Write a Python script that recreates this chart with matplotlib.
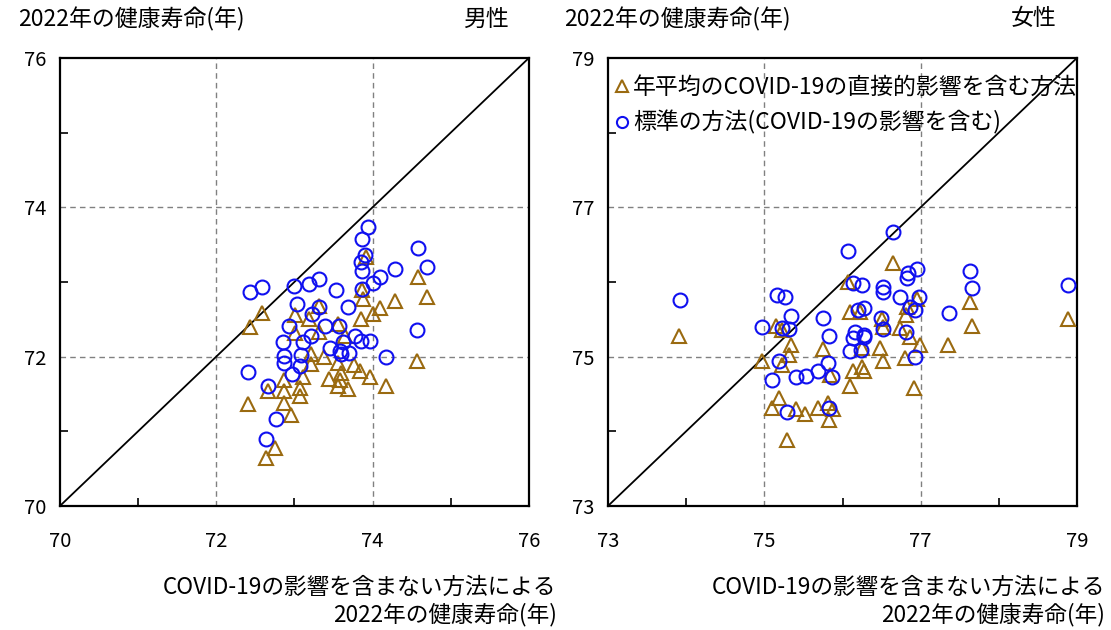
import matplotlib
matplotlib.use("Agg")
import matplotlib.pyplot as plt

plt.rcParams['font.family'] = ['Noto Sans CJK JP', 'DejaVu Sans']

# ---- male (x: without COVID-19, y: with) ----
male_std_x = [73.94, 73.87, 73.90, 73.85, 73.87, 74.58, 74.70, 74.29, 74.10, 74.01,
              73.86, 72.43, 72.59, 73.00, 73.19, 73.32, 73.53, 73.03, 73.31, 73.22,
              73.69, 72.93, 73.39, 73.57, 73.21, 73.11, 72.85, 73.45, 73.62, 73.77,
              73.85, 73.96, 73.58, 73.70, 73.60, 73.08, 72.86, 72.87, 73.07, 72.97,
              74.57, 74.17, 72.40, 72.66, 72.76, 72.63]
male_std_y = [73.73, 73.58, 73.36, 73.27, 73.15, 73.45, 73.20, 73.17, 73.07, 72.99,
              72.90, 72.87, 72.93, 72.95, 72.97, 73.04, 72.89, 72.71, 72.67, 72.57,
              72.66, 72.41, 72.41, 72.41, 72.28, 72.19, 72.19, 72.12, 72.20, 72.27,
              72.21, 72.21, 72.08, 72.05, 72.04, 72.02, 72.01, 71.92, 71.88, 71.76,
              72.36, 71.99, 71.79, 71.61, 71.17, 70.90]
male_avg_x = [73.92, 74.58, 74.70, 74.29, 74.09, 74.00, 73.87, 73.88, 73.85, 72.59,
              72.43, 73.01, 73.31, 73.19, 73.56, 73.32, 73.01, 73.65, 73.21, 73.38,
              73.21, 73.11, 73.56, 73.76, 73.84, 73.96, 73.44, 73.58, 73.56, 73.69,
              72.86, 72.86, 72.66, 73.07, 73.07, 72.86, 72.96, 72.40, 74.17, 74.57,
              72.75, 72.63, 73.60]
male_avg_y = [73.33, 73.06, 72.80, 72.74, 72.65, 72.57, 72.89, 72.77, 72.50, 72.59,
              72.40, 72.56, 72.68, 72.50, 72.44, 72.33, 72.31, 72.27, 72.04, 72.00,
              71.90, 71.73, 71.91, 71.89, 71.81, 71.73, 71.70, 71.69, 71.60, 71.57,
              71.69, 71.54, 71.54, 71.58, 71.47, 71.38, 71.22, 71.37, 71.61, 71.94,
              70.77, 70.64, 71.78]

# ---- female ----
female_std_x = [73.92, 75.16, 75.26, 75.34, 74.97, 75.22, 75.31, 75.19, 75.10, 75.40,
                75.53, 75.69, 75.29, 75.75, 75.83, 75.81, 75.87, 75.83, 76.65, 76.07,
                76.14, 76.25, 76.52, 76.52, 76.74, 76.84, 76.95, 76.82, 76.98, 76.86,
                76.93, 76.49, 76.52, 76.81, 76.16, 76.14, 76.27, 76.28, 76.10, 76.23,
                76.93, 77.36, 77.63, 77.66, 78.88, 76.20, 76.27]
female_std_y = [75.76, 75.83, 75.80, 75.54, 75.40, 75.38, 75.37, 74.94, 74.69, 74.72,
                74.74, 74.81, 74.26, 75.51, 75.28, 74.92, 74.72, 74.31, 76.67, 76.42,
                75.99, 75.96, 75.93, 75.87, 75.80, 76.12, 76.17, 76.05, 75.80, 75.66,
                75.62, 75.51, 75.37, 75.33, 75.33, 75.25, 75.29, 75.26, 75.08, 75.09,
                75.00, 75.59, 76.14, 75.92, 75.96, 75.62, 75.65]
female_avg_x = [73.91, 75.15, 75.23, 75.34, 75.31, 74.97, 75.22, 75.75, 75.19, 75.10,
                75.40, 75.52, 75.68, 75.81, 75.88, 75.83, 75.29, 75.84, 76.64, 76.07,
                76.10, 76.22, 76.50, 76.52, 76.74, 76.81, 76.95, 76.83, 76.25, 76.48,
                76.52, 76.80, 76.99, 76.86, 76.14, 76.25, 76.27, 76.10, 76.92, 77.35,
                77.63, 77.66, 78.88]
female_avg_y = [75.28, 75.41, 75.36, 75.16, 75.02, 74.94, 74.89, 75.10, 74.44, 74.31,
                74.30, 74.23, 74.31, 74.38, 74.30, 74.15, 73.88, 74.75, 76.25, 76.00,
                75.60, 75.60, 75.50, 75.40, 75.38, 75.56, 75.77, 75.66, 75.11, 75.11,
                74.94, 74.98, 75.16, 75.26, 74.80, 74.86, 74.80, 74.60, 74.58, 75.15,
                75.73, 75.41, 75.50]

label_avg = "年平均のCOVID-19の直接的影響を含む方法"
label_std = "標準の方法(COVID-19の影響を含む)"
ylab = "2022年の健康寿命(年)"
xlab = "COVID-19の影響を含まない方法による\n2022年の健康寿命(年)"

tri_col = "#9a6a10"
circ_col = "#1010f0"

fig = plt.figure(figsize=(11.11, 6.3), dpi=100)
axL = fig.add_axes([0.054, 0.197, 0.4221, 0.7111])
axR = fig.add_axes([0.5473, 0.197, 0.4221, 0.7111])


def setup(ax, lo, hi):
    ax.set_xlim(lo, hi)
    ax.set_ylim(lo, hi)
    ax.plot([lo, hi], [lo, hi], color="black", lw=1.3, zorder=2)
    grid = [lo + 2, lo + 4]
    for g in grid:
        ax.axvline(g, color="#808080", lw=1, ls=(0, (4, 3)), zorder=1)
        ax.axhline(g, color="#808080", lw=1, ls=(0, (4, 3)), zorder=1)
    major = [lo, lo + 2, lo + 4, hi]
    minor = [lo + 1, lo + 3, lo + 5]
    ax.set_xticks(major)
    ax.set_yticks(major)
    ax.set_xticks(minor, minor=True)
    ax.set_yticks(minor, minor=True)
    ax.tick_params(which="major", length=0, labelsize=14.5)
    ax.tick_params(axis="x", which="major", pad=18)
    ax.tick_params(axis="y", which="major", pad=10)
    ax.tick_params(which="minor", direction="in", length=6, width=1.2)
    for s in ax.spines.values():
        s.set_linewidth(1.6)


setup(axL, 70, 76)
setup(axR, 73, 79)

ms = 10
mew = 1.5
axL.plot(male_avg_x, male_avg_y, ls="none", marker="^", ms=ms, mfc="none",
         mec=tri_col, mew=mew, zorder=3)
axL.plot(male_std_x, male_std_y, ls="none", marker="o", ms=ms, mfc="none",
         mec=circ_col, mew=mew, zorder=4)
axR.plot(female_avg_x, female_avg_y, ls="none", marker="^", ms=ms, mfc="none",
         mec=tri_col, mew=mew, zorder=3, label=label_avg)
axR.plot(female_std_x, female_std_y, ls="none", marker="o", ms=ms, mfc="none",
         mec=circ_col, mew=mew, zorder=4, label=label_std)

leg = axR.legend(loc="upper left", bbox_to_anchor=(-0.012, 0.99), frameon=False,
                 fontsize=16.5, handlelength=0.55, handletextpad=0.2,
                 labelspacing=0.5, borderaxespad=0.2, markerscale=0.8)

# titles and axis labels
fig.text(0.016, 0.97, ylab, fontsize=16.5, va="center", ha="left")
fig.text(0.458, 0.97, "男性", fontsize=16.5, va="center", ha="right")
fig.text(0.508, 0.97, ylab, fontsize=16.5, va="center", ha="left")
fig.text(0.951, 0.97, "女性", fontsize=16.5, va="center", ha="right")

fig.text(0.501, 0.046, xlab, fontsize=16.3, va="center", ha="right",
         multialignment="right", linespacing=1.2)
fig.text(0.995, 0.046, xlab, fontsize=16.3, va="center", ha="right",
         multialignment="right", linespacing=1.2)

fig.savefig("out.png", dpi=100)
